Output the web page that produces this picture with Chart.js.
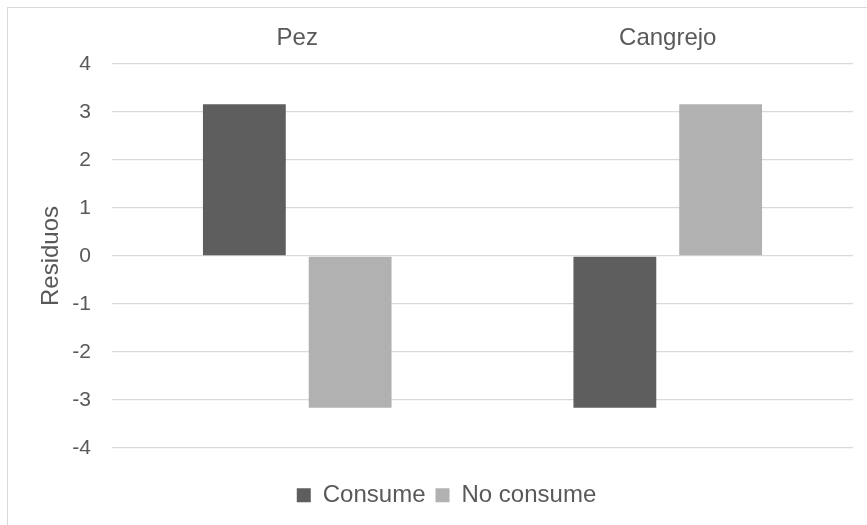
<!DOCTYPE html>
<html>
<head>
<meta charset="utf-8">
<script src="https://cdn.jsdelivr.net/npm/chart.js@4/dist/chart.umd.min.js"></script>
<style>
html,body{margin:0;padding:0;background:#fff;overflow:hidden;width:867px;height:525px;}
#frame{position:absolute;left:7px;top:7px;width:900px;height:600px;border-top:1px solid #d9d9d9;border-left:1px solid #d9d9d9;}
#wrap{position:absolute;left:0;top:0;width:867px;height:525px;}
</style>
</head>
<body>
<div id="frame"></div>
<div id="wrap"><canvas id="c"></canvas></div>
<script>
const categories = ["Pez", "Cangrejo"];
const seriesNames = ["Consume", "No consume"];
const consume = [3.16, -3.16];
const noConsume = [-3.16, 3.16];
const yTicks = [-4, -3, -2, -1, 0, 1, 2, 3, 4];

const font = "'Liberation Sans', Arial, sans-serif";
const txt = '#595959';
new Chart(document.getElementById('c'), {
  type: 'bar',
  data: {
    labels: categories,
    datasets: [
      {label: seriesNames[0], data: consume, backgroundColor: '#5e5e5e', borderWidth: 0},
      {label: seriesNames[1], data: noConsume, backgroundColor: '#b1b1b1', borderWidth: 0}
    ]
  },
  options: {
    responsive: true,
    maintainAspectRatio: false,
    animation: false,
    categoryPercentage: 0.571,
    barPercentage: 0.783,
    layout: {padding: {left: 40, right: 14, top: 0, bottom: 7.8}},
    plugins: {
      tooltip: {enabled: false},
      legend: {
        position: 'bottom',
        title: {display: true, text: '', font: {size: 1}, padding: {top: 24, bottom: 0}},
        labels: {
          font: {family: font, size: 24},
          color: txt,
          boxWidth: 14,
          boxHeight: 14,
          padding: 10
        }
      }
    },
    scales: {
      x: {
        position: 'top',
        grid: {display: false, drawTicks: false},
        border: {display: false},
        ticks: {font: {family: font, size: 24}, color: txt, padding: 11},
        afterFit: (s) => { s.height = 64; }
      },
      y: {
        min: -4, max: 4,
        afterBuildTicks: (ax) => { ax.ticks = yTicks.map(v => ({value: v})); },
        grid: {color: '#d9d9d9', lineWidth: 1.3, drawTicks: false},
        border: {display: false},
        ticks: {font: {family: font, size: 21}, color: txt, padding: 21},
        title: {display: true, text: 'Residuos', font: {family: font, size: 24}, color: txt, padding: {top: -3, bottom: 0}},
        afterFit: (s) => { s.width = 72; }
      }
    }
  }
});
</script>
</body>
</html>
